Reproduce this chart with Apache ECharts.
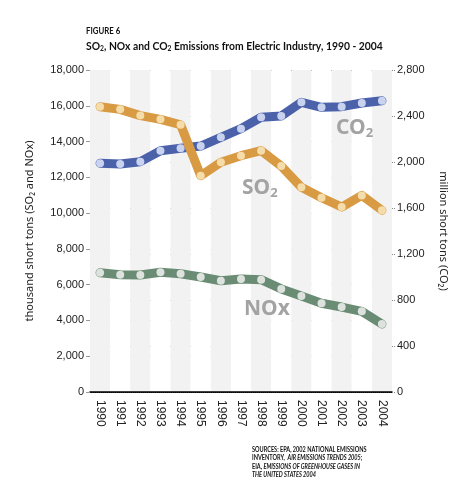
<!DOCTYPE html>
<html><head><meta charset="utf-8">
<script src="https://cdn.jsdelivr.net/npm/echarts@6/dist/echarts.min.js"></script>
<style>html,body{margin:0;padding:0;background:#fff}#c{width:472px;height:496px}</style>
</head><body><div id="c"></div>
<script>
const years = ['1990','1991','1992','1993','1994','1995','1996','1997','1998','1999','2000','2001','2002','2003','2004'];
// thousand short tons (left axis)
const so2 = [15950,15800,15450,15240,14940,12090,12840,13210,13490,12630,11440,10860,10340,10990,10160];
const nox = [6670,6560,6540,6690,6610,6430,6220,6320,6280,5760,5370,4960,4750,4510,3800];
// million short tons (right axis)
const co2 = [1989,1983,2003,2098,2119,2139,2215,2290,2389,2400,2519,2476,2481,2513,2533];
const leftTicks = {min:0, max:18000, interval:2000};
const rightTicks = {min:0, max:2800, interval:400};

const F = "'Noto Sans', 'Open Sans', sans-serif";
const N = "Lato, sans-serif";
const chart = echarts.init(document.getElementById('c'), null, {renderer:'canvas'});
const leftGridColors = ['#000'].concat(Array(8).fill('#bdbdbd')).concat(['#000']);
function ser(name, data, color, mcolor, yi, z){
  return {name, type:'line', data, yAxisIndex:yi, z,
    symbol:'circle', symbolSize:8, showSymbol:true,
    itemStyle:{color:mcolor, borderWidth:0},
    lineStyle:{color, width:9, cap:'round', join:'round'},
    emphasis:{disabled:true}, animation:false};
}
const lbl = (t, x, y) => ({type:'text', left:x, top:y, z:10, style:{text:t, rich:{
  b:{fontFamily:F, fontWeight:'bold', fontSize:21, fill:'#a3a3a3', lineHeight:24},
  s:{fontFamily:F, fontWeight:'bold', fontSize:13, fill:'#a3a3a3', lineHeight:24, padding:[10,0,0,0]}
}}});
chart.setOption({
  animation:false,
  grid:{left:90, right:80, top:70, bottom:104, containLabel:false},
  graphic:[
    {type:'text', left:86, top:27, scaleX:0.92, style:{text:'FIGURE 6', fontFamily:N, fontWeight:'bold', fontSize:8.5, fill:'#111'}},
    {type:'text', left:86, top:40, scaleX:0.9, style:{text:'{b|SO}{s|2}{b|, NOx and CO}{s|2}{b| Emissions from Electric Industry, 1990 - 2004}', rich:{
      b:{fontFamily:N, fontWeight:'bold', fontSize:11.5, fill:'#111', lineHeight:15},
      s:{fontFamily:N, fontWeight:'bold', fontSize:7.5, fill:'#111', lineHeight:15, padding:[5,0,0,0]}}}},
    lbl('{b|CO}{s|2}', 336, 117),
    lbl('{b|SO}{s|2}', 242, 177),
    lbl('{b|NOx}', 244, 299),
    {type:'text', left:252, top:446, scaleX:0.82, style:{text:
      '{n|SOURCES: EPA, 2002 NATIONAL EMISSIONS}\n{n|INVENTORY,  }{i|AIR EMISSIONS TRENDS 2005;}\n{n|EIA, }{i|EMISSIONS OF GREENHOUSE GASES IN}\n{i|THE UNITED STATES 2004}',
      rich:{n:{fontFamily:N, fontWeight:'bold', fontSize:6.8, fill:'#111', lineHeight:8.5},
            i:{fontFamily:N, fontWeight:'bold', fontStyle:'italic', fontSize:6.8, fill:'#111', lineHeight:8.5}}}}
  ],
  xAxis:{type:'category', data:years, boundaryGap:true,
    axisLine:{lineStyle:{color:'#000', width:1.5}}, axisTick:{show:false},
    axisLabel:{rotate:-90, fontFamily:"'Liberation Sans', sans-serif", fontSize:12, color:'#222', margin:8, interval:0},
    splitArea:{show:true, areaStyle:{color:['#f2f2f2','#ffffff']}},
    splitLine:{show:false}},
  yAxis:[
    {type:'value', position:'left', ...leftTicks,
      name:'thousand short tons (SO\u2082 and NOx)', nameLocation:'middle', nameRotate:90, nameGap:55,
      nameTextStyle:{fontFamily:F, fontSize:11, color:'#222'},
      axisLine:{show:false}, axisTick:{show:true, length:4, lineStyle:{color:'#999'}},
      axisLabel:{fontFamily:"'Liberation Sans', sans-serif", fontSize:11, color:'#222', margin:6,
        formatter:v=>v.toLocaleString('en-US')},
      splitLine:{show:true, lineStyle:{color:leftGridColors, width:1.2}}},
    {type:'value', position:'right', ...rightTicks,
      name:'million short tons (CO\u2082)', nameLocation:'middle', nameRotate:-90, nameGap:46,
      nameTextStyle:{fontFamily:F, fontSize:11, color:'#222'},
      axisLine:{show:false}, axisTick:{show:true, length:4, lineStyle:{color:'#888', type:'dotted'}},
      axisLabel:{fontFamily:"'Liberation Sans', sans-serif", fontSize:11, color:'#222', margin:5,
        formatter:v=>v.toLocaleString('en-US')},
      splitLine:{show:true, lineStyle:{color:'#888', type:'dotted', width:1}}}
  ],
  series:[
    ser('NOx', nox, '#6a8c74', '#dde2de', 0, 3),
    ser('CO2', co2, '#4b62ab', '#c9d3ef', 1, 4),
    ser('SO2', so2, '#d89a43', '#f5dcab', 0, 5)
  ]
});
</script></body></html>
